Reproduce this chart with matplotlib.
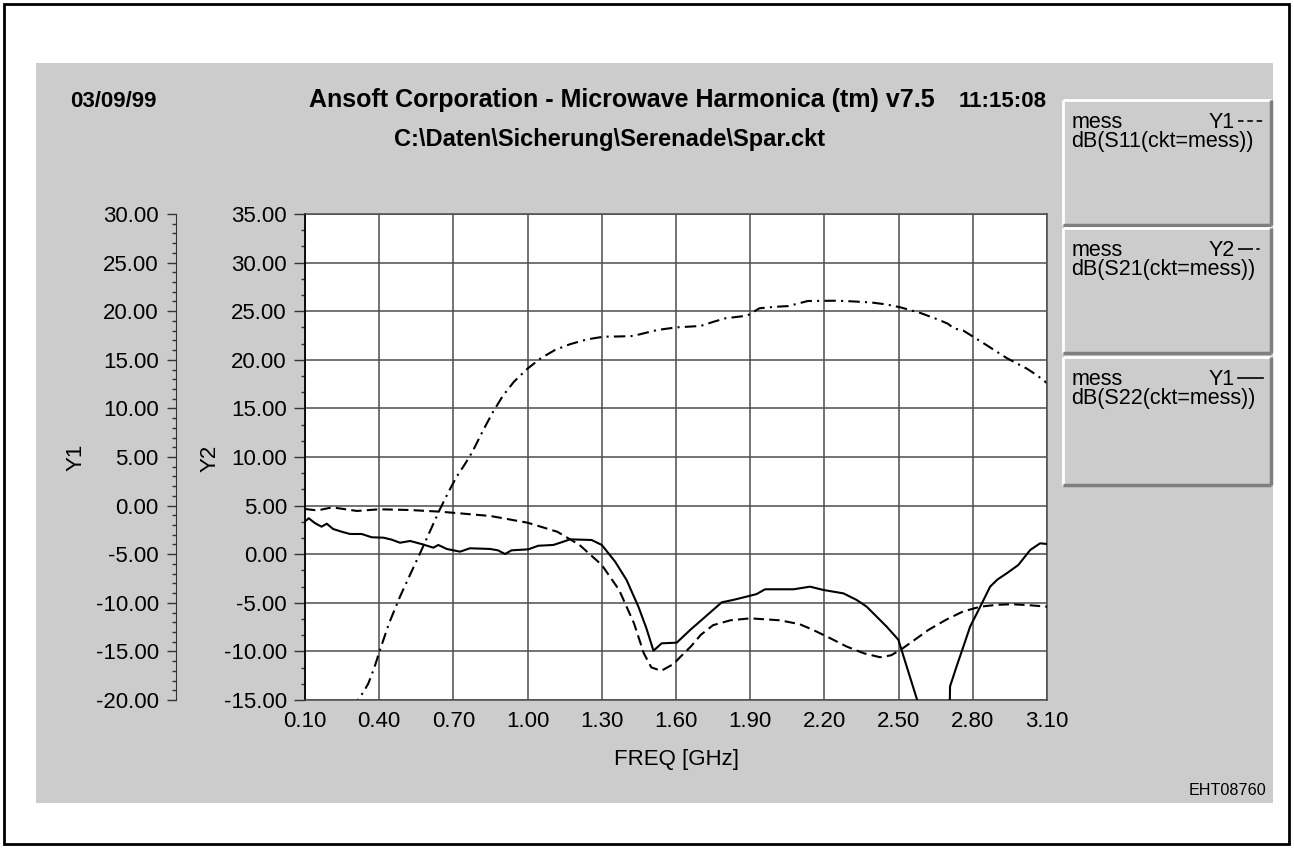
import matplotlib
matplotlib.use('Agg')
import matplotlib.pyplot as plt
from matplotlib.ticker import MultipleLocator, FormatStrFormatter
from matplotlib.patches import Rectangle

plt.rcParams['font.family'] = ['Liberation Sans', 'DejaVu Sans']
plt.rcParams['font.size'] = 16

# S11 (Y1 axis) - dashed
s11_freq = [0.10, 0.15, 0.21, 0.31, 0.40, 0.52, 0.65, 0.85, 1.00, 1.12, 1.21, 1.30,
            1.37, 1.43, 1.47, 1.50, 1.54, 1.59, 1.62, 1.66, 1.70, 1.75, 1.82, 1.90,
            2.02, 2.10, 2.155, 2.22, 2.29, 2.36, 2.425, 2.47, 2.51, 2.56, 2.62, 2.695,
            2.76, 2.83, 2.90, 2.96, 3.03, 3.10]
s11_db = [-0.35, -0.5, -0.18, -0.55, -0.38, -0.45, -0.63, -1.07, -1.76, -2.69, -4.05, -6.11,
          -8.68, -12.1, -15.2, -16.64, -17.0, -16.3, -15.5, -14.5, -13.3, -12.3, -11.8, -11.6,
          -11.8, -12.2, -12.8, -13.6, -14.5, -15.2, -15.6, -15.4, -14.8, -13.9, -12.8, -11.7,
          -10.9, -10.4, -10.2, -10.15, -10.25, -10.4]

# S21 (Y2 axis) - dash-dot
s21_freq = [0.30, 0.316, 0.336, 0.356, 0.38, 0.403, 0.44, 0.484, 0.525, 0.565, 0.606, 0.646,
            0.68, 0.713, 0.745, 0.776, 0.821, 0.857, 0.90, 0.945, 1.00, 1.053, 1.11, 1.171,
            1.24, 1.308, 1.37, 1.426, 1.525, 1.603, 1.70, 1.75, 1.80, 1.888, 1.937, 2.00,
            2.055, 2.133, 2.251, 2.32, 2.389, 2.45, 2.507, 2.59, 2.664, 2.70, 2.723, 2.762,
            2.85, 2.939, 3.018, 3.06, 3.10]
s21_db = [-16.0, -14.9, -14.2, -13.3, -11.7, -9.86, -7.1, -4.37, -2.1, 0.09, 2.4, 4.65,
          6.4, 7.97, 9.2, 10.5, 12.78, 14.5, 16.3, 17.75, 19.1, 20.15, 21.0, 21.6,
          22.1, 22.38, 22.4, 22.45, 23.07, 23.34, 23.48, 23.9, 24.27, 24.54, 25.3, 25.45,
          25.53, 26.05, 26.08, 26.0, 25.9, 25.7, 25.4, 24.8, 24.1, 23.7, 23.24, 23.0,
          21.6, 20.15, 19.1, 18.4, 17.6]

# S22 (Y1 axis) - solid
s22_freq = [0.10, 0.107, 0.115, 0.14, 0.167, 0.188, 0.214, 0.25, 0.282, 0.329, 0.37, 0.417,
            0.45, 0.484, 0.525, 0.578, 0.619, 0.639, 0.673, 0.727, 0.767, 0.848, 0.88, 0.909,
            0.935, 0.956, 1.003, 1.043, 1.104, 1.14, 1.172, 1.259, 1.30, 1.354, 1.40, 1.448,
            1.48, 1.509, 1.542, 1.603, 1.657, 1.72, 1.785, 1.832, 1.88, 1.926, 1.96, 2.075,
            2.142, 2.196, 2.277, 2.33, 2.371, 2.452, 2.499, 2.573, 2.60, 2.706, 2.708, 2.735,
            2.762, 2.789, 2.83, 2.87, 2.90, 2.937, 2.984, 3.032, 3.072, 3.10]
s22_db = [-1.6, -1.48, -1.3, -1.8, -2.17, -1.86, -2.41, -2.7, -2.92, -2.92, -3.26, -3.3,
          -3.5, -3.82, -3.64, -4.0, -4.33, -4.05, -4.46, -4.74, -4.39, -4.46, -4.6, -4.98,
          -4.6, -4.57, -4.5, -4.13, -4.05, -3.75, -3.47, -3.54, -4.05, -5.77, -7.65, -10.4,
          -12.6, -14.93, -14.17, -14.1, -12.8, -11.4, -9.95, -9.7, -9.4, -9.1, -8.61, -8.61,
          -8.34, -8.68, -9.03, -9.7, -10.4, -12.46, -13.8, -19.83, -22.0, -22.0, -18.6, -16.5,
          -14.5, -12.46, -10.4, -8.34, -7.6, -6.97, -6.11, -4.57, -3.88, -3.95]

freq_ticks = [0.10, 0.40, 0.70, 1.00, 1.30, 1.60, 1.90, 2.20, 2.50, 2.80, 3.10]

W, H = 1294, 848
fig = plt.figure(figsize=(W / 100, H / 100), dpi=100)

# background overlay in pixel coordinates
ov = fig.add_axes([0, 0, 1, 1], zorder=-1)
ov.set_xlim(0, W)
ov.set_ylim(H, 0)
ov.axis('off')
ov.add_patch(Rectangle((4, 4), 1285, 840, fill=False, ec='black', lw=2))
ov.add_patch(Rectangle((36, 63), 1237, 740, fc='#cccccc', ec='none'))

# legend boxes with bevel
boxes = [(100, 225, 'Y1', 'dB(S11(ckt=mess))', 'dash'),
         (228, 353, 'Y2', 'dB(S21(ckt=mess))', 'dashdot'),
         (357, 485, 'Y1', 'dB(S22(ckt=mess))', 'solid')]
for top, bot, yax, name, style in boxes:
    x0, x1 = 1063, 1271
    ov.add_patch(Rectangle((x0, top), x1 - x0, bot - top, fc='#cccccc', ec='none'))
    ov.plot([x0, x1], [top, top], color='white', lw=2, solid_capstyle='butt')
    ov.plot([x0, x0], [top, bot], color='white', lw=2, solid_capstyle='butt')
    ov.plot([x0, x1], [bot, bot], color='#7f7f7f', lw=2.5, solid_capstyle='butt')
    ov.plot([x1, x1], [top, bot], color='#7f7f7f', lw=2.5, solid_capstyle='butt')
    ov.text(1072, top + 28, 'mess', ha='left', va='baseline', fontsize=15.5)
    ov.text(1235, top + 28, yax, ha='right', va='baseline', fontsize=15.5)
    ov.text(1071, top + 47, name, ha='left', va='baseline', fontsize=15.5)
    ly = top + 21
    if style == 'dash':
        ov.plot([1238, 1263], [ly, ly], color='black', lw=1.2,
                dashes=(3.3, 2.3, 3.3, 2.3, 3.3, 2.3, 0.8, 1.5))
    elif style == 'dashdot':
        ov.plot([1238, 1263], [ly, ly], color='black', lw=1.2, dashes=(9, 2, 2, 2, 2, 2))
    else:
        ov.plot([1238, 1263], [ly, ly], color='black', lw=1.2)

# header texts
ov.text(70, 107, '03/09/99', ha='left', va='baseline', fontsize=16, weight='bold')
ov.text(309, 107, 'Ansoft Corporation - Microwave Harmonica (tm) v7.5', ha='left',
        va='baseline', fontsize=18, weight='bold')
ov.text(1047, 107, '11:15:08', ha='right', va='baseline', fontsize=16, weight='bold')
ov.text(610, 146, r'C:\Daten\Sicherung\Serenade\Spar.ckt', ha='center', va='baseline',
        fontsize=17, weight='bold')
ov.text(76, 457, 'Y1', rotation=90, ha='center', va='center', fontsize=16)
ov.text(210, 458, 'Y2', rotation=90, ha='center', va='center', fontsize=16)
ov.text(676, 765, 'FREQ [GHz]', ha='center', va='baseline', fontsize=16)
ov.text(1266, 795, 'EHT08760', ha='right', va='baseline', fontsize=11.6)

# main plot (Y2 axis)
L, R, T, B = 305, 1047, 214, 700
ax = fig.add_axes([L / W, 1 - B / H, (R - L) / W, (B - T) / H])
ax.set_facecolor('white')
ax.set_xlim(0.10, 3.10)
ax.set_ylim(-15, 35)
ax.set_xticks(freq_ticks)
ax.xaxis.set_major_formatter(FormatStrFormatter('%.2f'))
ax.tick_params(axis='x', length=0, pad=8, labelsize=16)
ax.yaxis.set_major_locator(MultipleLocator(5))
ax.yaxis.set_minor_locator(MultipleLocator(5 / 3))
ax.yaxis.set_major_formatter(FormatStrFormatter('%.2f'))
ax.tick_params(axis='y', which='major', direction='out', length=8, width=1, pad=5,
               labelsize=16, color='#333333')
ax.tick_params(axis='y', which='minor', direction='out', length=3, width=1, color='#333333')
ax.grid(True, which='major', color='#4d4d4d', lw=1.1)
for side in ['top', 'right', 'bottom']:
    ax.spines[side].set_color('#4d4d4d')
    ax.spines[side].set_linewidth(1.1)
ax.spines['left'].set_color('black')
ax.spines['left'].set_linewidth(1.3)

ax.plot(s21_freq, s21_db, color='black', lw=1.5, dashes=(5.5, 2.5, 1, 2.5))

# Y1 axis
ax1 = ax.twinx()
ax1.set_ylim(-20, 30)
ax1.yaxis.tick_left()
ax1.spines['left'].set_position(('axes', -129 / (R - L)))
for side in ['top', 'right', 'bottom']:
    ax1.spines[side].set_visible(False)
ax1.spines['left'].set_color('#333333')
ax1.yaxis.set_major_locator(MultipleLocator(5))
ax1.yaxis.set_minor_locator(MultipleLocator(1))
ax1.yaxis.set_major_formatter(FormatStrFormatter('%.2f'))
ax1.tick_params(axis='y', which='major', direction='out', length=6.5, width=1, pad=6,
                labelsize=16, color='#333333')
ax1.tick_params(axis='y', which='minor', direction='out', length=3, width=1, color='#333333')

ax1.plot(s11_freq, s11_db, color='black', lw=1.5, dashes=(5, 2.5))
ax1.plot(s22_freq, s22_db, color='black', lw=1.5)

fig.savefig('out.png', dpi=100)
